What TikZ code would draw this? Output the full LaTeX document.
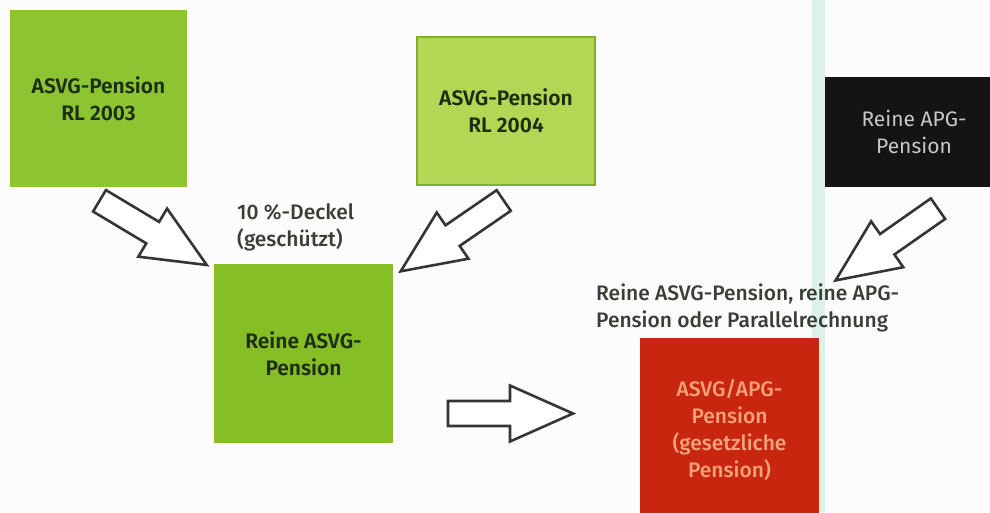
\documentclass[tikz,border=0pt]{standalone}
\usepackage{fontspec}
\setmainfont{Fira Sans}
\newfontfamily\medfont{Fira Sans Medium}
\newfontfamily\sbfont{Fira Sans SemiBold}
\definecolor{bgc}{HTML}{FBFCFB}
\definecolor{stripe}{HTML}{DDF1EC}
\definecolor{gA}{HTML}{8CC432}
\definecolor{gB}{HTML}{B3D654}
\definecolor{gBborder}{HTML}{7FB12E}
\definecolor{gC}{HTML}{86BE26}
\definecolor{gtext}{HTML}{1E2E14}
\definecolor{blk}{HTML}{141416}
\definecolor{blktext}{HTML}{C8C8C8}
\definecolor{redbox}{HTML}{C8260F}
\definecolor{redtext}{HTML}{F2A27A}
\definecolor{outtext}{HTML}{3A3F36}
\definecolor{arrowline}{HTML}{353535}
\newcommand\blockarr[3]{%
  \begin{scope}[shift={(#1,#2)},rotate=#3]
    \draw[blockarrow] (0,-12.5) -- (62,-12.5) -- (62,-28) -- (125,0) -- (62,28) -- (62,12.5) -- (0,12.5) -- cycle;
  \end{scope}}
\begin{document}
\begin{tikzpicture}[x=1pt,y=-1pt,
  box/.style={inner sep=0pt, align=center, font=\sbfont\fontsize{21}{27}\selectfont},
  plain/.style={inner sep=0pt, align=left, text=outtext, font=\medfont\fontsize{21}{27}\selectfont},
  blockarrow/.style={draw=arrowline, fill=white, line width=2.6pt, line join=miter},
]
\clip (0,0) rectangle (990,512);
\fill[bgc] (0,0) rectangle (990,512);
\fill[stripe] (812,0) rectangle (825,512);

\node[box, fill=gA, text=gtext, minimum width=177pt, minimum height=177pt] (rl03) at (98.5,98.5) {ASVG-Pension\\RL 2003};
\node[box, fill=gB, draw=gBborder, line width=1.2pt, text=gtext, minimum width=178pt, minimum height=148pt] (rl04) at (506,111) {ASVG-Pension\\RL 2004};
\node[box, fill=blk, text=blktext, font=\fontsize{21}{27}\selectfont, minimum width=178pt, minimum height=110pt] (apg) at (914,132) {Reine APG-\\Pension};
\node[box, fill=gC, text=gtext, minimum width=179pt, minimum height=179pt] (asvg) at (303.5,353.5) {Reine ASVG-\\Pension};
\node[box, fill=redbox, text=redtext, font=\medfont\fontsize{21}{27}\selectfont, minimum width=179pt, minimum height=184pt] (ges) at (729.5,430) {ASVG/APG-\\Pension\\(gesetzliche\\Pension)};

\node[plain, anchor=west] (deckel) at (237,227.5) {10 \%-Deckel\\(geschützt)};
\node[plain, anchor=west] (wahl) at (596,307.5) {Reine ASVG-Pension, reine APG-\\Pension oder Parallelrechnung};

\blockarr{99.5}{200.8}{-30.9}
\blockarr{503.7}{200.5}{-145.5}
\blockarr{448}{413.5}{0}
\blockarr{938}{208.7}{-145}
\end{tikzpicture}
\end{document}
